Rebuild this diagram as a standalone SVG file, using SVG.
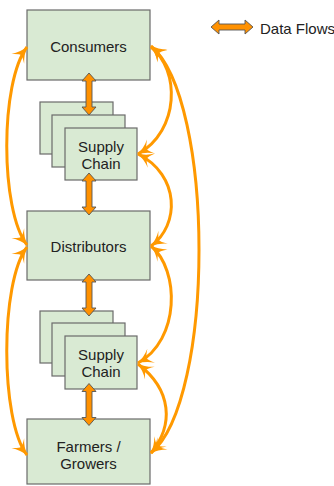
<svg xmlns="http://www.w3.org/2000/svg" width="334" height="486" viewBox="0 0 334 486">
<style>
.box{fill:#d9ead3;stroke:#6a6a6a;stroke-width:1.2}
.lbl{font-family:"Liberation Sans",Arial,sans-serif;font-size:15px;fill:#222;text-anchor:middle}
.flow{fill:none;stroke:#ff9900;stroke-width:3;marker-start:url(#barb);marker-end:url(#barb)}
.dbl{fill:#ff9100;stroke:#555;stroke-width:0.9}
</style>
<defs>
<marker id="barb" markerUnits="userSpaceOnUse" viewBox="0 -9 17 18" refX="15" refY="0" markerWidth="17" markerHeight="18" orient="auto-start-reverse">
<path d="M16,0 Q7,-2 0,-8 Q5,-2 5,0 Q5,2 0,8 Q7,2 16,0 Z" fill="#ff9900"/>
</marker>
<path id="dblarrow" d="M0,-21 L7,-13 L3,-13 L3,13 L7,13 L0,21 L-7,13 L-3,13 L-3,-13 L-7,-13 Z"/>
</defs>

<g id="consumers">
<rect class="box" x="27" y="10" width="123" height="70"/>
<text class="lbl" x="88.5" y="52">Consumers</text>
</g>

<g id="supply-chain-1">
<rect class="box" x="40" y="102" width="73" height="52"/>
<rect class="box" x="52" y="115" width="73" height="52"/>
<rect class="box" x="65" y="128" width="72" height="52"/>
<text class="lbl" x="101" y="152">Supply</text>
<text class="lbl" x="101" y="169">Chain</text>
</g>

<g id="distributors">
<rect class="box" x="27" y="211" width="123" height="69"/>
<text class="lbl" x="88.5" y="252">Distributors</text>
</g>

<g id="supply-chain-2">
<rect class="box" x="40" y="311" width="73" height="52"/>
<rect class="box" x="52" y="323" width="73" height="53"/>
<rect class="box" x="65" y="336" width="72" height="53"/>
<text class="lbl" x="101" y="360">Supply</text>
<text class="lbl" x="101" y="377">Chain</text>
</g>

<g id="farmers">
<rect class="box" x="27" y="419" width="123" height="65"/>
<text class="lbl" x="88.5" y="452">Farmers /</text>
<text class="lbl" x="88.5" y="469">Growers</text>
</g>

<g id="connectors">
<path class="flow" d="M27,47 C0,82 0,210 27,245"/>
<path class="flow" d="M27,247 C0,282 0,420 27,455"/>
<path class="flow" d="M151,47 C180,70 180,130 138,154"/>
<path class="flow" d="M138,154 C180,175 180,225 151,246"/>
<path class="flow" d="M151,246 C180,270 180,340 138,363"/>
<path class="flow" d="M138,364 C172,390 174,425 151,453"/>
<path class="flow" d="M151,46 C215,100 215,400 151,453"/>
<use href="#dblarrow" class="dbl" transform="translate(89,94)"/>
<use href="#dblarrow" class="dbl" transform="translate(89,194)"/>
<use href="#dblarrow" class="dbl" transform="translate(89,295)"/>
<use href="#dblarrow" class="dbl" transform="translate(89,404.5)"/>
</g>

<g id="legend">
<use href="#dblarrow" class="dbl" transform="translate(232,27) rotate(90)"/>
<text class="lbl" x="260" y="34" style="text-anchor:start">Data Flows</text>
</g>
</svg>
